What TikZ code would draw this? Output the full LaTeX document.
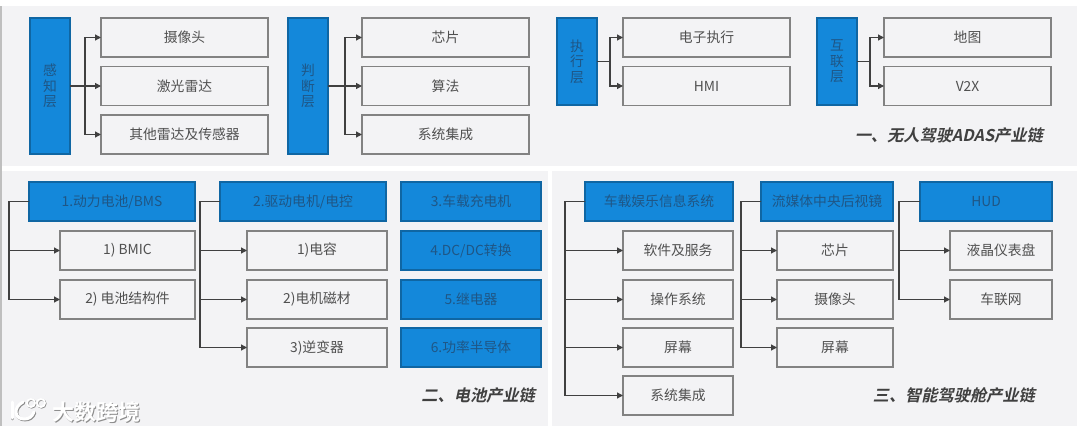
\documentclass[tikz,border=0pt]{standalone}
\usepackage{fontspec}
\setmainfont{Noto Sans CJK SC}
\newfontfamily\ttlfont[FakeSlant=0.22]{Noto Sans CJK SC Bold}
\newfontfamily\wmfont{Noto Sans CJK SC Bold}
\usetikzlibrary{arrows.meta}
\definecolor{panelc}{HTML}{F3F3F5}
\definecolor{bluec}{HTML}{1488DA}
\definecolor{bluetxt}{HTML}{1F5685}
\definecolor{boxline}{HTML}{828282}
\definecolor{txtc}{HTML}{505050}
\definecolor{linec}{HTML}{404040}
\tikzset{
  x=1pt,y=-1pt,
  panel/.style={fill=panelc,draw=none},
  cell/.style={draw=boxline,line width=1.2pt,fill=panelc,text=txtc,anchor=north west,inner sep=0pt,outer sep=0pt,font=\fontsize{13.8}{15.6}\selectfont,align=center},
  head/.style={cell,draw=bluec!75!black,fill=bluec,text=bluetxt},
  conn/.style={draw=linec,line width=1.2pt,-{Triangle[length=6pt,width=6pt]}},
  ttl/.style={anchor=east,text=linec,inner sep=0pt,font=\fontsize{16.2}{18}\ttlfont},
  wm/.style={anchor=west,inner sep=0pt,font=\fontsize{22}{24}\wmfont},
}
\begin{document}
\begin{tikzpicture}
\useasboundingbox (0,0) rectangle (1080,433);
\fill[white] (0,0) rectangle (1080,433);
\fill[black!25] (0,6) rectangle (2,426);
\fill[panel] (2,6) rectangle (1077,166);
\fill[panel] (2,171) rectangle (548,426);
\fill[panel] (552,171) rectangle (1077,426);

% --- top panel
\node[head,minimum width=40pt,minimum height=136pt] (gz) at (30,18) {感\\知\\层};
\node[cell,minimum width=167pt,minimum height=39pt] (gz1) at (101,18) {摄像头};
\node[cell,minimum width=167pt,minimum height=39pt] (gz2) at (101,66.5) {激光雷达};
\node[cell,minimum width=167pt,minimum height=39pt] (gz3) at (101,115) {其他雷达及传感器};
\draw[conn] (gz.east) -- (gz2.west);
\draw[conn] (gz.east) -- ++(15,0) |- (gz1.west);
\draw[conn] (gz.east) -- ++(15,0) |- (gz3.west);

\node[head,minimum width=40pt,minimum height=136pt] (pd) at (288,18) {判\\断\\层};
\node[cell,minimum width=167pt,minimum height=39pt] (pd1) at (362,18) {芯片};
\node[cell,minimum width=167pt,minimum height=39pt] (pd2) at (362,66.5) {算法};
\node[cell,minimum width=167pt,minimum height=39pt] (pd3) at (362,115) {系统集成};
\draw[conn] (pd.east) -- (pd2.west);
\draw[conn] (pd.east) -- ++(17,0) |- (pd1.west);
\draw[conn] (pd.east) -- ++(17,0) |- (pd3.west);

\node[head,minimum width=40pt,minimum height=87pt] (zx) at (557,18) {执\\行\\层};
\node[cell,minimum width=167pt,minimum height=39pt] (zx1) at (623,18) {电子执行};
\node[cell,minimum width=167pt,minimum height=39pt] (zx2) at (623,66.5) {HMI};
\draw[conn] (zx.east) -- ++(13,0) |- (zx1.west);
\draw[conn] (zx.east) -- ++(13,0) |- (zx2.west);

\node[head,minimum width=40pt,minimum height=87pt] (hl) at (817,18) {互\\联\\层};
\node[cell,minimum width=167pt,minimum height=39pt] (hl1) at (884,18) {地图};
\node[cell,minimum width=167pt,minimum height=39pt] (hl2) at (884,66.5) {V2X};
\draw[conn] (hl.east) -- ++(13,0) |- (hl1.west);
\draw[conn] (hl.east) -- ++(13,0) |- (hl2.west);

\node[ttl] (t1) at (1043,135) {一、无人驾驶ADAS产业链};

% --- battery panel
\node[head,minimum width=166pt,minimum height=39pt] (dc) at (29,182) {1.动力电池/BMS};
\node[cell,minimum width=135pt,minimum height=39pt] (dc1) at (60,231) {1) BMIC};
\node[cell,minimum width=135pt,minimum height=39pt] (dc2) at (60,280) {2) 电池结构件};
\draw[conn] (dc.west) -- ++(-20,0) |- (dc1.west);
\draw[conn] (dc.west) -- ++(-20,0) |- (dc2.west);

\node[head,minimum width=166pt,minimum height=39pt] (qd) at (220,182) {2.驱动电机/电控};
\node[cell,minimum width=140pt,minimum height=39pt] (qd1) at (247,231) {1)电容};
\node[cell,minimum width=140pt,minimum height=39pt] (qd2) at (247,280) {2)电机磁材};
\node[cell,minimum width=140pt,minimum height=39pt] (qd3) at (247,328) {3)逆变器};
\draw[conn] (qd.west) -- ++(-20,0) |- (qd1.west);
\draw[conn] (qd.west) -- ++(-20,0) |- (qd2.west);
\draw[conn] (qd.west) -- ++(-20,0) |- (qd3.west);

\node[head,minimum width=140pt,minimum height=39pt] (b3) at (401,182) {3.车载充电机};
\node[head,minimum width=140pt,minimum height=39pt] (b4) at (401,231) {4.DC/DC转换};
\node[head,minimum width=140pt,minimum height=39pt] (b5) at (401,280) {5.继电器};
\node[head,minimum width=140pt,minimum height=39pt] (b6) at (401,328) {6.功率半导体};

\node[ttl] (t2) at (535,395) {二、电池产业链};

% --- cockpit panel
\node[head,minimum width=148pt,minimum height=39pt] (yl) at (585,182) {车载娱乐信息系统};
\node[cell,minimum width=110pt,minimum height=39pt] (yl1) at (623,231) {软件及服务};
\node[cell,minimum width=110pt,minimum height=39pt] (yl2) at (623,280) {操作系统};
\node[cell,minimum width=110pt,minimum height=39pt] (yl3) at (623,328) {屏幕};
\node[cell,minimum width=110pt,minimum height=39pt] (yl4) at (623,376) {系统集成};
\draw[conn] (yl.west) -- ++(-20,0) |- (yl1.west);
\draw[conn] (yl.west) -- ++(-20,0) |- (yl2.west);
\draw[conn] (yl.west) -- ++(-20,0) |- (yl3.west);
\draw[conn] (yl.west) -- ++(-20,0) |- (yl4.west);

\node[head,minimum width=132pt,minimum height=39pt] (lm) at (761,182) {流媒体中央后视镜};
\node[cell,minimum width=116pt,minimum height=39pt] (lm1) at (777,231) {芯片};
\node[cell,minimum width=116pt,minimum height=39pt] (lm2) at (777,280) {摄像头};
\node[cell,minimum width=116pt,minimum height=39pt] (lm3) at (777,328) {屏幕};
\draw[conn] (lm.west) -- ++(-20,0) |- (lm1.west);
\draw[conn] (lm.west) -- ++(-20,0) |- (lm2.west);
\draw[conn] (lm.west) -- ++(-20,0) |- (lm3.west);

\node[head,minimum width=132pt,minimum height=39pt] (hd) at (920,182) {HUD};
\node[cell,minimum width=102pt,minimum height=39pt] (hd1) at (950,231) {液晶仪表盘};
\node[cell,minimum width=102pt,minimum height=39pt] (hd2) at (950,280) {车联网};
\draw[conn] (hd.west) -- ++(-21,0) |- (hd1.west);
\draw[conn] (hd.west) -- ++(-21,0) |- (hd2.west);

\node[ttl] (t3) at (1035,395) {三、智能驾驶舱产业链};

% --- watermark
\begin{scope}[yshift=2pt,line width=3pt,line cap=round]
  \draw[black!45,shift={(0.9,0.9)}] (12,404) -- (12,420);
  \draw[black!45,shift={(0.9,0.9)}] (23,404) .. controls (13,409) and (14,421) .. (24,421) .. controls (29,421) and (32,419) .. (34,414);
  \draw[white] (12,404) -- (12,420);
  \draw[white] (23,404) .. controls (13,409) and (14,421) .. (24,421) .. controls (29,421) and (32,419) .. (34,414);
  \draw[black!45,line width=1.8pt,shift={(0.7,0.7)}] (31,405) circle[radius=4];
  \draw[black!45,line width=1.8pt,shift={(0.7,0.7)}] (41,405) circle[radius=4];
  \draw[white,line width=1.8pt] (31,405) circle[radius=4];
  \draw[white,line width=1.8pt] (41,405) circle[radius=4];
\end{scope}
\node[wm,text=black!45] (wms) at (52.9,412.9) {大数跨境};
\node[wm,text=white] (wmt) at (52,412) {大数跨境};
\end{tikzpicture}
\end{document}
